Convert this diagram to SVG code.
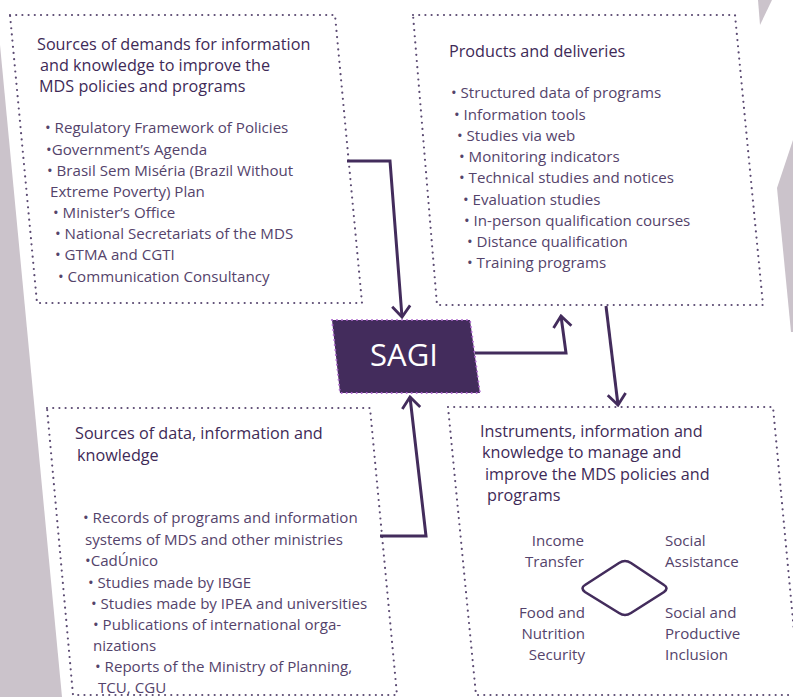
<svg xmlns="http://www.w3.org/2000/svg" width="793" height="697" viewBox="0 0 793 697">
<defs>
<style>
.bg{fill:#cbc3cb}
.dot{fill:none;stroke:#5b4a72;stroke-width:2.2;stroke-dasharray:0 6.2;stroke-linecap:round}
.t{font-family:"Open Sans","Noto Sans",sans-serif;font-size:16.2px;font-weight:500;fill:#3e2a57}
.b{font-family:"Open Sans","Noto Sans",sans-serif;font-size:15.1px;fill:#54436b}
.c{fill:none;stroke:#432c5c;stroke-width:3}
.sagi{fill:#432c5c;stroke:#b06ad0;stroke-width:2;stroke-dasharray:0 5;stroke-linecap:round}
.st{font-family:"Open Sans","Noto Sans",sans-serif;font-size:31px;fill:#ffffff;text-anchor:middle}
.r{text-anchor:end}
</style>
<marker id="ah" viewBox="-2 -11 16 22" refX="12" refY="0" markerWidth="16" markerHeight="22" markerUnits="userSpaceOnUse" orient="auto">
<path d="M1,-9 L12,0 L1,9" fill="none" stroke="#432c5c" stroke-width="2.8"/>
</marker>
</defs>
<polygon class="bg" points="0,45 0,697 62,697"/>
<polygon class="bg" points="758,0 772,0 760,25"/>
<polygon class="bg" points="793,140 777,188 791,332 793,332"/>

<g id="demands">
<polygon class="dot" points="10,15 335,15 362,303 37,303"/>
<text class="t" x="37" y="50">Sources of demands for information</text>
<text class="t" x="40" y="71">and knowledge to improve the</text>
<text class="t" x="39" y="92">MDS policies and programs</text>
<text class="b" x="45" y="133">• Regulatory Framework of Policies</text>
<text class="b" x="46" y="155">•Government’s Agenda</text>
<text class="b" x="47" y="176">• Brasil Sem Miséria (Brazil Without</text>
<text class="b" x="50" y="197">Extreme Poverty) Plan</text>
<text class="b" x="53" y="218">• Minister’s Office</text>
<text class="b" x="55" y="239">• National Secretariats of the MDS</text>
<text class="b" x="55" y="260">• GTMA and CGTI</text>
<text class="b" x="58" y="282">• Communication Consultancy</text>
</g>

<g id="products">
<polygon class="dot" points="413,15 735,15 763,305 437,305"/>
<text class="t" x="449" y="57">Products and deliveries</text>
<text class="b" x="451" y="98">•  Structured data of programs</text>
<text class="b" x="454" y="120">• Information tools</text>
<text class="b" x="457" y="141">• Studies via web</text>
<text class="b" x="459" y="162">• Monitoring indicators</text>
<text class="b" x="459" y="183">• Technical studies and notices</text>
<text class="b" x="463" y="205">• Evaluation studies</text>
<text class="b" x="464" y="226">• In-person qualification courses</text>
<text class="b" x="467" y="247">• Distance qualification</text>
<text class="b" x="467" y="268">• Training programs</text>
</g>

<g id="sagi">
<polygon class="sagi" points="332,320 470,320 480,393 340,393"/>
<text class="st" x="404" y="366">SAGI</text>
</g>

<g id="data-sources">
<polygon class="dot" points="47,408 370,408 397,695 73,695"/>
<text class="t" x="75" y="439">Sources of data, information and</text>
<text class="t" x="77" y="461">knowledge</text>
<text class="b" x="83" y="523">• Records of programs and information</text>
<text class="b" x="85" y="545">systems of MDS and other ministries</text>
<text class="b" x="85" y="566">•CadÚnico</text>
<text class="b" x="88" y="588">• Studies made by IBGE</text>
<text class="b" x="91" y="609">• Studies made by IPEA and universities</text>
<text class="b" x="93" y="630">• Publications of international orga-</text>
<text class="b" x="93" y="651">nizations</text>
<text class="b" x="95" y="672">• Reports of the Ministry of Planning,</text>
<text class="b" x="98" y="693">TCU, CGU</text>
</g>

<g id="instruments">
<polygon class="dot" points="448,407 773,407 800,695 476,695"/>
<text class="t" x="480" y="437">Instruments, information and</text>
<text class="t" x="482" y="458">knowledge to manage and</text>
<text class="t" x="485" y="480">improve the MDS policies and</text>
<text class="t" x="487" y="501">programs</text>
<path d="M585,585 L619,563 Q625,559 631,563 L664,585 Q669,588 664,592 L631,613 Q625,617 619,613 L585,592 Q580,588 585,585 Z" fill="none" stroke="#432c5c" stroke-width="2.6"/>
<text class="b r" x="584" y="546">Income</text>
<text class="b r" x="584" y="567">Transfer</text>
<text class="b" x="665" y="546">Social</text>
<text class="b" x="665" y="567">Assistance</text>
<text class="b r" x="585" y="618">Food and</text>
<text class="b r" x="585" y="639">Nutrition</text>
<text class="b r" x="585" y="660">Security</text>
<text class="b" x="665" y="618">Social and</text>
<text class="b" x="665" y="639">Productive</text>
<text class="b" x="665" y="660">Inclusion</text>
</g>

<g id="connectors">
<path class="c" d="M347,161 L390,161 L402,317" marker-end="url(#ah)"/>
<path class="c" d="M475,353 L566,353 L561,316" marker-end="url(#ah)"/>
<path class="c" d="M606,306 L618,405" marker-end="url(#ah)"/>
<path class="c" d="M380,536 L426,536 L410,397" marker-end="url(#ah)"/>
</g>
</svg>
